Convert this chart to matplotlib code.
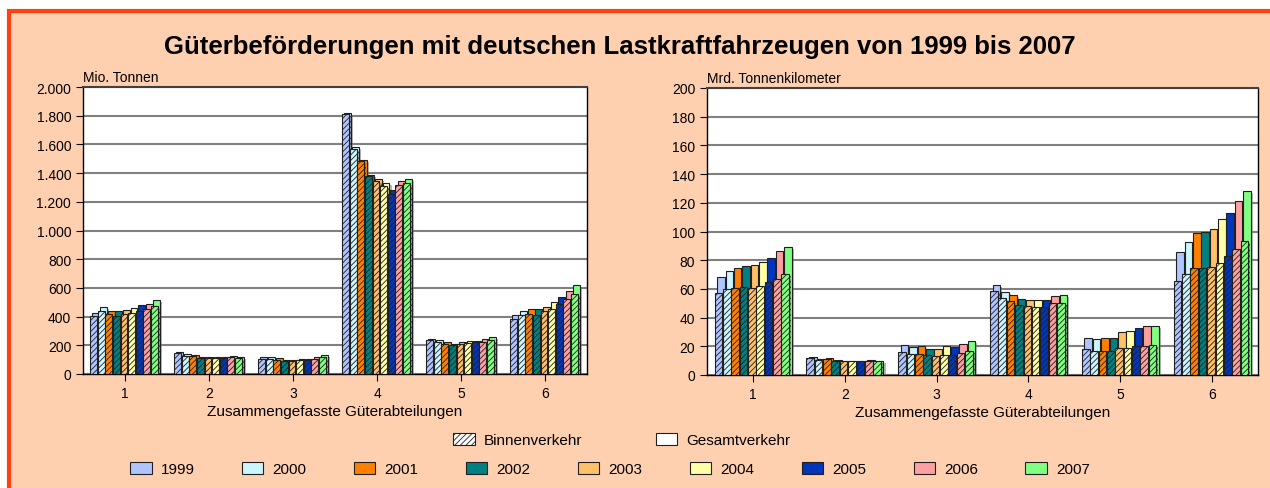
import matplotlib.pyplot as plt
import matplotlib.patches as mpatches
import matplotlib.patheffects as pe
from matplotlib.ticker import FuncFormatter, MultipleLocator
import numpy as np

plt.rcParams['font.family'] = ['Liberation Sans', 'DejaVu Sans']
plt.rcParams['hatch.linewidth'] = 0.6

years = ['1999', '2000', '2001', '2002', '2003', '2004', '2005', '2006', '2007']
colors = ['#B0C4FF', '#CCF5FF', '#FF8000', '#008080', '#FFC06A',
          '#FFFFA8', '#0036BC', '#FFA0A0', '#80FF80']
groups = [1, 2, 3, 4, 5, 6]

# Mio. Tonnen, one row per year, one column per group
tonnen_binnen = [
    [402, 146, 105, 1812, 235, 385],
    [437, 128, 105, 1568, 225, 410],
    [416, 128, 100, 1487, 210, 420],
    [406, 114, 90, 1378, 205, 410],
    [416, 114, 90, 1345, 210, 440],
    [425, 114, 95, 1312, 215, 450],
    [441, 114, 95, 1254, 220, 490],
    [451, 118, 105, 1319, 225, 520],
    [476, 114, 115, 1329, 235, 555],
]
tonnen_gesamt = [
    [425, 151, 115, 1819, 245, 410],
    [465, 137, 115, 1584, 240, 440],
    [441, 131, 110, 1491, 220, 455],
    [437, 116, 100, 1387, 210, 450],
    [446, 118, 100, 1359, 225, 470],
    [458, 118, 105, 1329, 230, 500],
    [479, 118, 105, 1284, 230, 540],
    [490, 125, 120, 1347, 245, 580],
    [518, 118, 130, 1361, 260, 620],
]

# Mrd. Tonnenkilometer
tkm_binnen = [
    [56.9, 12.0, 16.3, 58.3, 18, 65.7],
    [59.7, 10.5, 14.4, 53.7, 17, 70.4],
    [60.4, 11.0, 14.9, 51.3, 17, 74.3],
    [61.1, 10.0, 13.7, 49.0, 17, 74.3],
    [60.9, 9.5, 13.2, 47.9, 19, 75.5],
    [62.2, 9.5, 14.2, 47.6, 19, 78.3],
    [64.8, 9.5, 13.7, 47.2, 20, 82.7],
    [66.9, 10.0, 15.3, 50.0, 20, 87.8],
    [70.2, 9.5, 16.5, 50.0, 21, 93.4],
]
tkm_gesamt = [
    [68.5, 12.3, 21.1, 62.9, 26, 85.5],
    [72.7, 11.0, 19.3, 58.0, 25, 92.5],
    [74.3, 11.5, 20.0, 56.0, 26, 99.0],
    [75.7, 10.5, 18.3, 53.0, 26, 99.9],
    [76.9, 10.0, 17.9, 52.0, 30, 101.7],
    [78.5, 10.0, 20.0, 52.5, 31, 108.5],
    [81.8, 10.0, 19.3, 52.5, 33, 112.7],
    [86.2, 10.5, 21.4, 55.3, 34, 121.0],
    [89.4, 10.0, 23.5, 56.0, 34, 128.0],
]

title = 'Güterbeförderungen mit deutschen Lastkraftfahrzeugen von 1999 bis 2007'
xlabel = 'Zusammengefasste Güterabteilungen'

fig = plt.figure(figsize=(12.7, 4.89), dpi=100)
fig.patch.set_facecolor('white')
bg = mpatches.Rectangle((9 / 1270, -0.05), 1.1, (489 - 12) / 489 + 0.05,
                        transform=fig.transFigure, facecolor='#FFD0B0',
                        edgecolor='#FF4010', linewidth=3, zorder=-5)
fig.patches.append(bg)

fig.text(0.488, 1 - 47 / 489, title, ha='center', va='center',
         fontsize=18.5, fontweight='bold')

shadow = [pe.SimplePatchShadow(offset=(1.5, -1.5), shadow_rgbFace='#707070',
                               alpha=0.5), pe.Normal()]


def de_fmt(v, pos):
    return f'{int(v):,}'.replace(',', '.')


def draw_panel(ax, binnen, gesamt, ymax, step, ylabel):
    x = np.array(groups, dtype=float)
    slot = 0.091
    bw = 0.083
    for i in range(len(years)):
        pos = x + (i - 4) * slot
        b1 = ax.bar(pos + 0.016, gesamt[i], width=bw, color=colors[i],
                    edgecolor='#202020', linewidth=0.8, zorder=2 + 2 * i)
        b2 = ax.bar(pos - 0.012, binnen[i], width=bw, color=colors[i],
                    edgecolor='#202020', linewidth=0.8, hatch='//////',
                    zorder=3 + 2 * i)
        for p in list(b1) + list(b2):
            p.set_path_effects(shadow)
    ax.set_xlim(0.5, 6.5)
    ax.set_ylim(0, ymax)
    ax.yaxis.set_major_locator(MultipleLocator(step))
    ax.yaxis.set_major_formatter(FuncFormatter(de_fmt))
    ax.set_xticks(groups)
    ax.grid(axis='y', color='#808080', linewidth=1.5, zorder=1)
    ax.set_axisbelow(True)
    ax.set_facecolor('white')
    for s in ax.spines.values():
        s.set_color('black')
        s.set_linewidth(1.0)
    ax.spines['top'].set_color('#404040')
    ax.spines['top'].set_linewidth(1.5)
    ax.tick_params(axis='both', direction='out', length=5, labelsize=10,
                   colors='black')
    ax.set_xlabel(xlabel, fontsize=11, labelpad=3)
    ax.text(0, 1.012, ylabel, transform=ax.transAxes, ha='left',
            va='bottom', fontsize=10)


ax1 = fig.add_axes([83 / 1270, 114 / 489, 504 / 1270, 287 / 489])
draw_panel(ax1, tonnen_binnen, tonnen_gesamt, 2000, 200, 'Mio. Tonnen')

ax2 = fig.add_axes([707 / 1270, 113 / 489, 551 / 1270, 287 / 489])
draw_panel(ax2, tkm_binnen, tkm_gesamt, 200, 20, 'Mrd. Tonnenkilometer')

# legend: traffic type
h_type = [mpatches.Patch(facecolor='white', edgecolor='#202020',
                         hatch='//////', linewidth=0.8),
          mpatches.Patch(facecolor='white', edgecolor='#202020',
                         linewidth=0.8)]
fig.legend(h_type, ['Binnenverkehr', 'Gesamtverkehr'], ncol=2,
           loc='center', bbox_to_anchor=(622 / 1270, 1 - 441 / 489),
           frameon=False, fontsize=11, handlelength=1.4, handleheight=0.9,
           handletextpad=0.6, columnspacing=4.8)

# legend: years
h_year = [mpatches.Patch(facecolor=c, edgecolor='#202020', linewidth=0.8)
          for c in colors]
fig.legend(h_year, years, ncol=9, loc='center',
           bbox_to_anchor=(610 / 1270, 1 - 470 / 489), frameon=False,
           fontsize=11, handlelength=1.4, handleheight=0.9,
           handletextpad=0.6, columnspacing=3.1)

fig.savefig('out.png', dpi=100, facecolor=fig.get_facecolor())
